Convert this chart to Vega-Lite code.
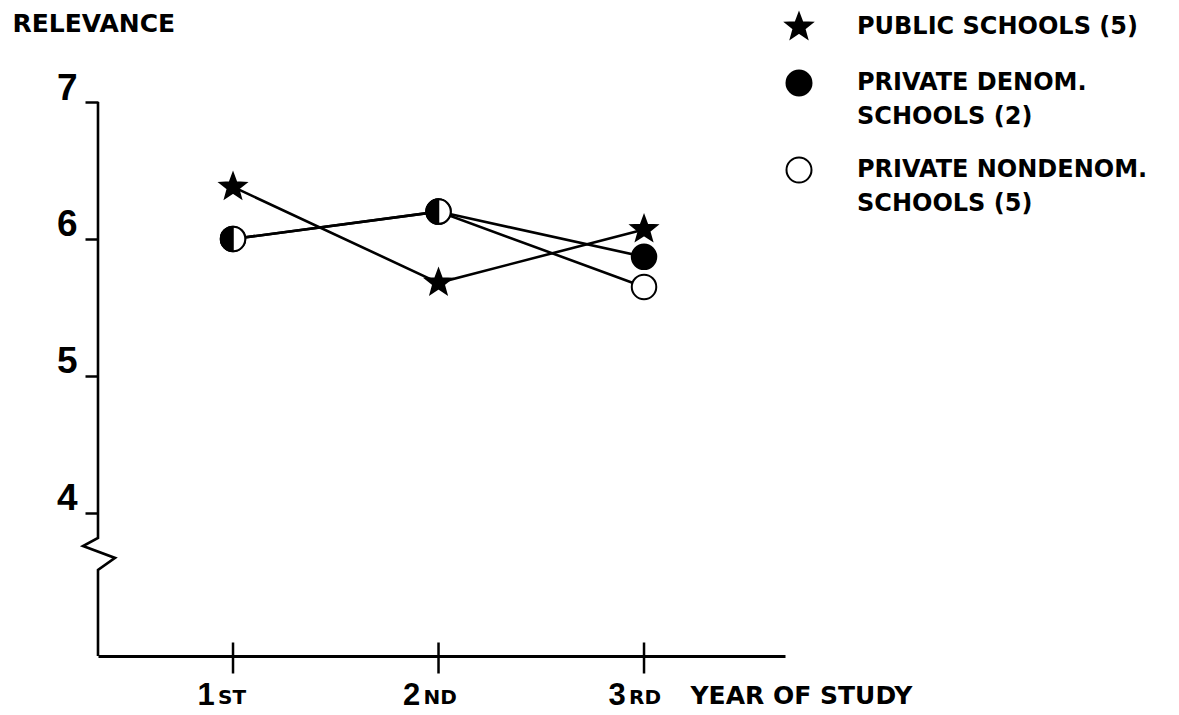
{
  "$schema": "https://vega.github.io/schema/vega-lite/v6.json",
  "width": 687,
  "height": 554,
  "autosize": {"type": "none"},
  "padding": {"left": 98, "top": 102, "right": 394, "bottom": 59},
  "background": "white",
  "config": {"view": {"stroke": null}, "font": "DejaVu Sans", "style": {"guide-label": {"lineHeight": 34}}},
  "datasets": {
    "scores": [
      {"series": "PUBLIC SCHOOLS (5)", "year": 1, "relevance": 6.38},
      {"series": "PUBLIC SCHOOLS (5)", "year": 2, "relevance": 5.68},
      {"series": "PUBLIC SCHOOLS (5)", "year": 3, "relevance": 6.07},
      {"series": "PRIVATE DENOM. SCHOOLS (2)", "year": 1, "relevance": 6.0},
      {"series": "PRIVATE DENOM. SCHOOLS (2)", "year": 2, "relevance": 6.2},
      {"series": "PRIVATE DENOM. SCHOOLS (2)", "year": 3, "relevance": 5.87},
      {"series": "PRIVATE NONDENOM. SCHOOLS (5)", "year": 1, "relevance": 6.0},
      {"series": "PRIVATE NONDENOM. SCHOOLS (5)", "year": 2, "relevance": 6.2},
      {"series": "PRIVATE NONDENOM. SCHOOLS (5)", "year": 3, "relevance": 5.65}
    ],
    "yaxis": [
      {"i": 0, "year": 0.343, "relevance": 7},
      {"i": 1, "year": 0.343, "relevance": 3.818},
      {"i": 2, "year": 0.27, "relevance": 3.759},
      {"i": 3, "year": 0.426, "relevance": 3.672},
      {"i": 4, "year": 0.343, "relevance": 3.584},
      {"i": 5, "year": 0.343, "relevance": 2.956}
    ],
    "suffix": [
      {"year": 1, "suffix": "ST", "relevance": 2.956},
      {"year": 2, "suffix": "ND", "relevance": 2.956},
      {"year": 3, "suffix": "RD", "relevance": 2.956}
    ]
  },
  "encoding": {
    "x": {
      "field": "year", "type": "quantitative",
      "scale": {"domain": [0.343, 3.686], "nice": false, "zero": false},
      "axis": {
        "values": [1, 2, 3], "format": "d",
        "domain": true, "domainColor": "black", "domainWidth": 3,
        "ticks": false, "tickSize": 0, "grid": false,
        "labelFont": "Liberation Sans", "labelFontSize": 31, "labelFontWeight": "bold", "labelColor": "black",
        "labelAlign": "left", "labelOffset": -36, "labelBaseline": "alphabetic", "labelPadding": 48,
        "labelFlush": false, "labelOverlap": false,
        "title": "YEAR OF STUDY", "titleX": 592, "titleY": 47, "titleAlign": "left", "titleBaseline": "alphabetic",
        "titleFont": "DejaVu Sans", "titleFontSize": 25, "titleFontWeight": "bold", "titleColor": "black"
      }
    },
    "y": {
      "field": "relevance", "type": "quantitative",
      "scale": {"domain": [2.956, 7], "nice": false, "zero": false},
      "axis": {
        "values": [4, 5, 6, 7], "format": "d",
        "domain": false, "grid": false,
        "ticks": true, "tickSize": 13, "tickWidth": 2.5, "tickColor": "black",
        "labelFont": "Liberation Sans", "labelFontSize": 37, "labelFontWeight": "bold", "labelColor": "black",
        "labelPadding": 8, "labelBaseline": "alphabetic", "labelOffset": -3,
        "labelFlush": false, "labelOverlap": false,
        "title": "RELEVANCE", "titleAngle": 0, "titleAlign": "left", "titleBaseline": "alphabetic",
        "titleX": -86, "titleY": -71,
        "titleFont": "DejaVu Sans", "titleFontSize": 25, "titleFontWeight": "bold", "titleColor": "black"
      }
    }
  },
  "layer": [
    {
      "data": {"name": "yaxis"},
      "mark": {"type": "line", "color": "black", "strokeWidth": 2.6, "clip": false},
      "encoding": {"order": {"field": "i", "type": "quantitative"}}
    },
    {
      "data": {"name": "scores"},
      "mark": {"type": "line", "color": "black", "strokeWidth": 2.6},
      "encoding": {"detail": {"field": "series", "type": "nominal"}}
    },
    {
      "data": {"name": "suffix"},
      "mark": {"type": "tick", "orient": "vertical", "size": 31, "thickness": 2.5, "color": "black", "opacity": 1, "yOffset": 2}
    },
    {
      "data": {"name": "suffix"},
      "mark": {"type": "text", "align": "left", "baseline": "alphabetic", "dx": -15, "dy": 48, "fontSize": 20, "fontWeight": "bold", "font": "DejaVu Sans", "color": "black"},
      "encoding": {"text": {"field": "suffix", "type": "nominal"}}
    },
    {
      "data": {"name": "scores"},
      "mark": {"type": "point", "filled": true, "size": 600, "strokeWidth": 2, "opacity": 1},
      "encoding": {
        "shape": {
          "field": "series", "type": "nominal",
          "scale": {
            "domain": ["PUBLIC SCHOOLS (5)", "PRIVATE DENOM. SCHOOLS (2)", "PRIVATE NONDENOM. SCHOOLS (5)"],
            "range": ["M0,-1.1L0.272,-0.374L1.046,-0.34L0.439,0.143L0.647,0.89L0,0.462L-0.647,0.89L-0.439,0.143L-1.046,-0.34L-0.272,-0.374Z", "circle", "circle"]
          },
          "legend": {
            "orient": "none", "legendX": 687.5, "legendY": -88.5, "title": null, "padding": 0,
            "symbolSize": 625, "symbolStrokeWidth": 2,
            "labelFont": "DejaVu Sans", "labelFontSize": 24, "labelFontWeight": "bold", "labelColor": "black",
            "labelLimit": 0, "labelOffset": 44.5, "rowPadding": 24, "labelBaseline": "middle",
            "labelExpr": "indexof(datum.label, '. ') > 0 ? split(replace(datum.label, '. ', '.|'), '|', 2) : datum.label"
          }
        },
        "fill": {
          "field": "series", "type": "nominal",
          "scale": {
            "domain": ["PUBLIC SCHOOLS (5)", "PRIVATE DENOM. SCHOOLS (2)", "PRIVATE NONDENOM. SCHOOLS (5)"],
            "range": ["black", "black", "white"]
          }
        },
        "stroke": {
          "field": "series", "type": "nominal",
          "scale": {
            "domain": ["PUBLIC SCHOOLS (5)", "PRIVATE DENOM. SCHOOLS (2)", "PRIVATE NONDENOM. SCHOOLS (5)"],
            "range": ["black", "black", "black"]
          }
        }
      }
    },
    {
      "data": {"name": "scores"},
      "transform": [{"filter": "datum.series == 'PRIVATE DENOM. SCHOOLS (2)' && datum.year < 3"}],
      "mark": {"type": "point", "filled": true, "size": 600, "fill": "black", "stroke": "black", "strokeWidth": 1.5, "opacity": 1, "shape": "M0,-1A1,1 0 0,0 0,1Z"}
    }
  ]
}
